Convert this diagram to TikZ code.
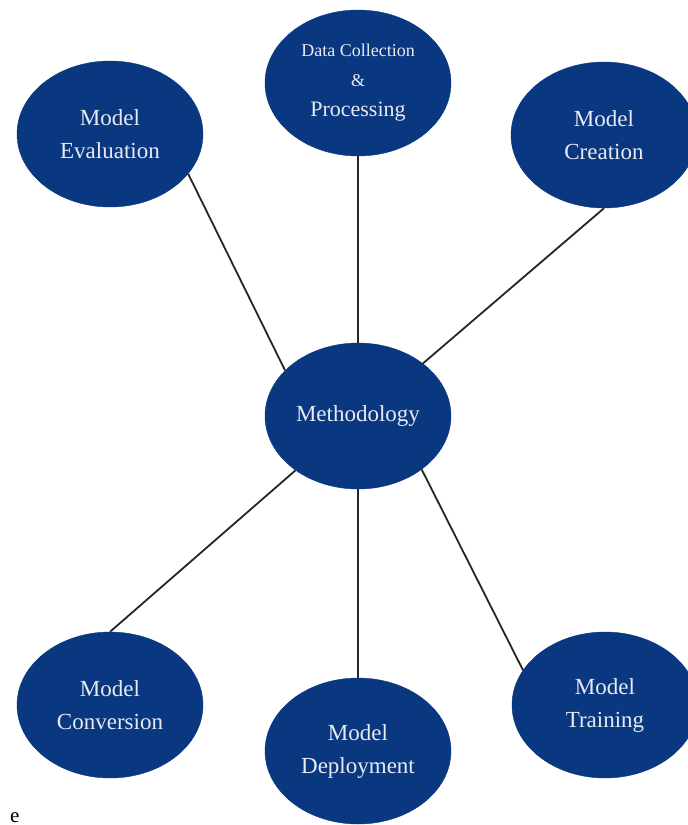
\documentclass[tikz,border=0pt]{standalone}
\usepackage{fontspec}
\setmainfont{Liberation Serif}
\usetikzlibrary{shapes.geometric}
\definecolor{navy}{RGB}{10,56,128}
\definecolor{txt}{RGB}{232,234,242}
\tikzset{
  bubble/.style={ellipse, fill=navy, draw=navy, minimum width=186pt, minimum height=146pt,
    inner sep=0pt, text=txt, align=center, font=\fontsize{23}{33}\selectfont},
  link/.style={draw=black!85, line width=1.8pt}
}
\begin{document}
\begin{tikzpicture}[x=1pt,y=-1pt]
\clip (0,0) rectangle (688,825);
\fill[white] (0,0) rectangle (688,825);
\node[bubble] (ev) at (110,134) {Model\\Evaluation};
\node[bubble, font=\fontsize{18}{30}\selectfont] (dc) at (358,83) {Data Collection\\\&\\{\fontsize{22}{30}\selectfont Processing}};
\node[bubble] (cr) at (604,135) {Model\\Creation};
\node[bubble] (me) at (358,416) {Methodology};
\node[bubble] (cv) at (110,705) {Model\\Conversion};
\node[bubble] (dp) at (358,751) {Model\\Deployment};
\node[bubble] (tr) at (605,705) {Model\\Training};
\node[font=\fontsize{21}{22}\selectfont, anchor=base west, inner sep=0pt] (e) at (10,822) {e};
\draw[link] (ev.-27) -- (me.148);
\draw[link] (dc.south) -- (me.north);
\draw[link] (cr.south) -- (me.39);
\draw[link] (cv.north) -- (me.-139);
\draw[link] (me.south) -- (dp.north);
\draw[link] (me.-40) -- (tr.157);
\end{tikzpicture}
\end{document}
